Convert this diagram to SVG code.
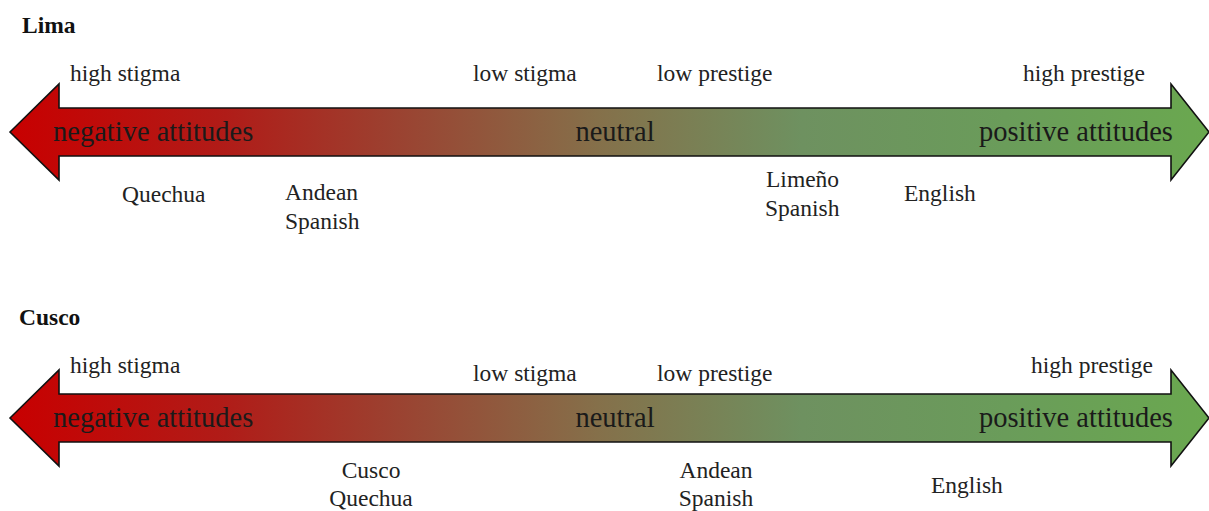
<svg xmlns="http://www.w3.org/2000/svg" width="1209" height="511" viewBox="0 0 1209 511">
<style>
text{font-family:"Liberation Serif","Times New Roman",serif;fill:#222}
.t{font-weight:bold;font-size:23.5px;fill:#111}
.s{font-size:23.5px}
.b{font-size:28.5px;fill:#1a1a1a}
.m{text-anchor:middle}
.arrow{stroke:#111;stroke-width:1.6;stroke-linejoin:miter}
</style>
<defs>
<linearGradient id="g" gradientUnits="userSpaceOnUse" x1="10" y1="0" x2="1209" y2="0">
<stop offset="0" stop-color="#c80000"/>
<stop offset="0.18" stop-color="#b01c18"/>
<stop offset="0.33" stop-color="#9a4432"/>
<stop offset="0.49" stop-color="#85704a"/>
<stop offset="0.66" stop-color="#6e9160"/>
<stop offset="0.83" stop-color="#6a9c5a"/>
<stop offset="1" stop-color="#6aa84f"/>
</linearGradient>
</defs>
<g id="lima">
<text class="t" x="22" y="33">Lima</text>
<path class="arrow" fill="url(#g)" d="M10,132 L59,84 L59,108 L1171,108 L1171,84 L1209,132 L1171,180 L1171,156 L59,156 L59,180 Z"/>
<text class="b" x="53" y="141">negative attitudes</text>
<text class="b m" x="615" y="141">neutral</text>
<text class="b" x="979" y="141">positive attitudes</text>
<text class="s" x="70" y="81">high stigma</text>
<text class="s" x="473" y="81">low stigma</text>
<text class="s" x="657" y="81">low prestige</text>
<text class="s" x="1023" y="81">high prestige</text>
<text class="s" x="122" y="202">Quechua</text>
<text class="s" x="285" y="200">Andean</text>
<text class="s" x="285" y="229">Spanish</text>
<text class="s" x="766" y="187">Limeño</text>
<text class="s" x="765" y="216">Spanish</text>
<text class="s" x="904" y="201">English</text>
</g>
<g id="cusco">
<text class="t" x="19" y="325">Cusco</text>
<path class="arrow" fill="url(#g)" d="M10,418 L59,370 L59,394 L1171,394 L1171,370 L1209,418 L1171,466 L1171,442 L59,442 L59,466 Z"/>
<text class="b" x="53" y="427">negative attitudes</text>
<text class="b m" x="615" y="427">neutral</text>
<text class="b" x="979" y="427">positive attitudes</text>
<text class="s" x="70" y="373">high stigma</text>
<text class="s" x="473" y="381">low stigma</text>
<text class="s" x="657" y="381">low prestige</text>
<text class="s" x="1031" y="373">high prestige</text>
<text class="s m" x="371" y="478">Cusco</text>
<text class="s m" x="371" y="506">Quechua</text>
<text class="s m" x="716" y="478">Andean</text>
<text class="s m" x="716" y="506">Spanish</text>
<text class="s" x="931" y="493">English</text>
</g>
</svg>
